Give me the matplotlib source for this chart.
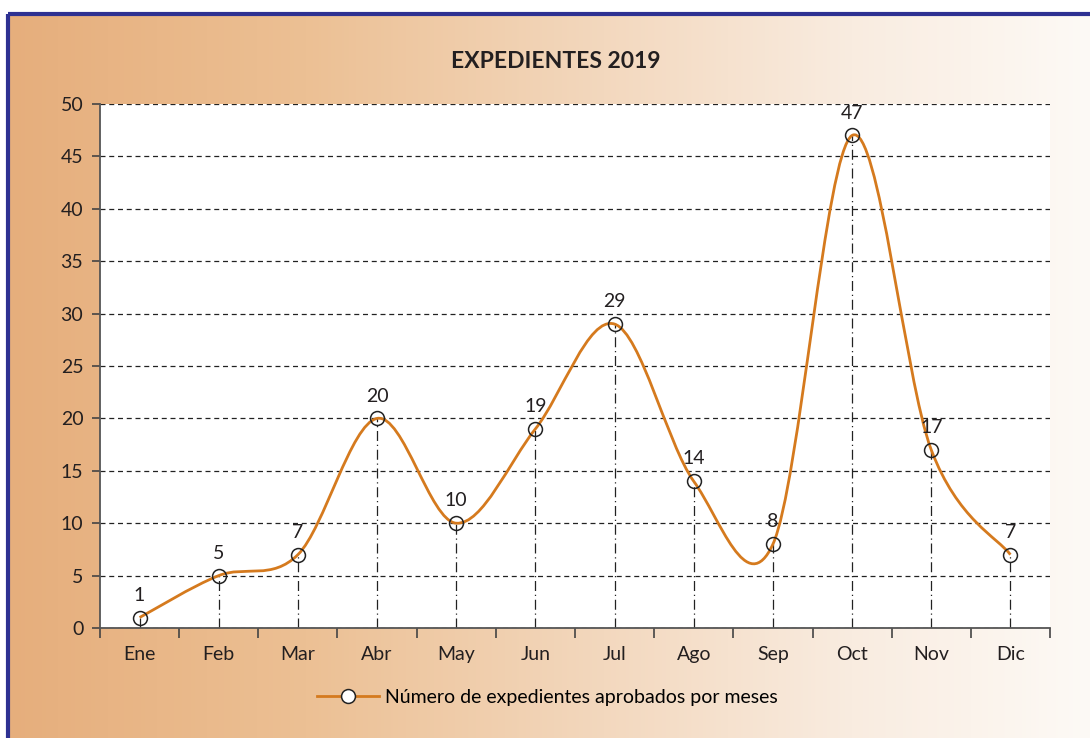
import numpy as np
import matplotlib
matplotlib.use("Agg")
from matplotlib import pyplot as plt
from matplotlib.path import Path
from matplotlib.patches import PathPatch
from matplotlib.lines import Line2D

# data
months = ["Ene", "Feb", "Mar", "Abr", "May", "Jun", "Jul", "Ago", "Sep", "Oct", "Nov", "Dic"]
expedientes = [1, 5, 7, 20, 10, 19, 29, 14, 8, 47, 17, 7]
y_ticks = [0, 5, 10, 15, 20, 25, 30, 35, 40, 45, 50]
title = "EXPEDIENTES 2019"
series_name = "Número de expedientes aprobados por meses"

plt.rcParams['font.family'] = ['Lato', 'DejaVu Sans']
orange = "#D57A1E"
text_col = "#231F20"

W, H = 1090, 738
fig = plt.figure(figsize=(W / 100, H / 100), dpi=100)

# gradient background with the blue frame
bg = fig.add_axes([0, 0, 1, 1], zorder=0)
bg.set_axis_off()
bg.set_xlim(0, W)
bg.set_ylim(H, 0)
stops_x = [0, 300, 600, 850, 1090]
stops_c = np.array([[230, 174, 124], [236, 192, 148], [243, 216, 190], [249, 236, 224], [253, 250, 246]]) / 255
xs = np.arange(W)
grad = np.stack([np.interp(xs, stops_x, stops_c[:, k]) for k in range(3)], axis=-1)
bg.imshow(grad[None, :, :], extent=[8, W, H, 14], aspect="auto", zorder=0)
bg.plot([8, W], [14, 14], color="#2E3192", lw=3, solid_capstyle="butt", zorder=2)
bg.plot([8, 8], [14, H], color="#2E3192", lw=3, solid_capstyle="butt", zorder=2)

# plot area
ax = fig.add_axes([100 / W, 1 - 628 / H, 950 / W, 524 / H], zorder=1)
ax.set_facecolor("white")
x = np.arange(len(months))
y = np.array(expedientes, dtype=float)

# smooth line (Excel style bezier through the points)
pts = np.column_stack([x, y])
ext = np.vstack([pts[0], pts, pts[-1]])
verts = [tuple(pts[0])]
codes = [Path.MOVETO]
for i in range(len(pts) - 1):
    p0, p1, p2, p3 = ext[i], ext[i + 1], ext[i + 2], ext[i + 3]
    c1 = p1 + (p2 - p0) / 6
    c2 = p2 - (p3 - p1) / 6
    verts += [tuple(c1), tuple(c2), tuple(p2)]
    codes += [Path.CURVE4] * 3
ax.add_patch(PathPatch(Path(verts, codes), fill=False, edgecolor=orange, lw=2, zorder=3))

# drop lines from each point
ax.vlines(x, 0, y, colors="#222222", linestyles=(0, (8, 3, 1, 3)), lw=0.9, zorder=2)
ax.plot(x, y, linestyle="none", marker="o", ms=10, mfc="none", mec="#222222", mew=1.1, zorder=4)

for xi, yi in zip(x, expedientes):
    ax.annotate(str(yi), (xi, yi), xytext=(0, 10), textcoords="offset points",
                ha="center", va="bottom", fontsize=14, color=text_col)

ax.set_xlim(-0.5, len(months) - 0.5)
ax.set_ylim(0, 50)
ax.set_yticks(y_ticks)
ax.set_yticklabels([str(v) for v in y_ticks], fontsize=14, color=text_col)
ax.set_xticks(np.arange(-0.5, len(months)))
ax.set_xticklabels([])
ax.set_xticks(x, minor=True)
ax.set_xticklabels(months, minor=True, fontsize=14, color=text_col)
ax.tick_params(axis="x", which="minor", length=0, pad=13)
ax.tick_params(axis="x", which="major", length=7, width=1.2, color="#444444", direction="out")
ax.tick_params(axis="y", length=6, width=1.2, color="#444444", direction="out", pad=6)
ax.yaxis.grid(True, linestyle=(0, (4, 3)), color="#222222", lw=0.9)
ax.set_axisbelow(True)
for s in ["top", "right"]:
    ax.spines[s].set_visible(False)
for s in ["left", "bottom"]:
    ax.spines[s].set_color("#555555")
    ax.spines[s].set_linewidth(1.3)
ax.spines["left"].set_zorder(5)

fig.text(556 / W, 1 - 62 / H, title, ha="center", va="center", fontsize=16.5,
         fontweight="bold", color=text_col)

handle = Line2D([], [], color=orange, lw=2, marker="o", ms=10, mfc="white", mec="#222222", mew=1.1)
fig.legend([handle], [series_name], loc="center", bbox_to_anchor=(547 / W, 1 - 697 / H),
           frameon=False, fontsize=14, handlelength=3.2, handletextpad=0.3)

fig.savefig("out.png", dpi=100)
